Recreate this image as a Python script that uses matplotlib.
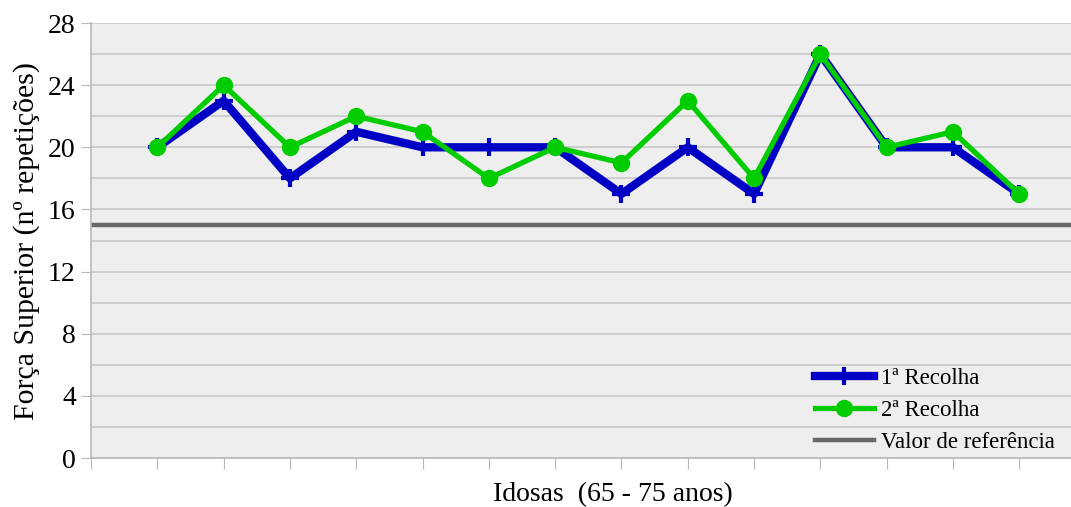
import matplotlib.pyplot as plt
import matplotlib
import numpy as np

matplotlib.rcParams['font.family'] = ['Liberation Serif', 'DejaVu Serif']

# dados
idosas = np.arange(1, 15)
recolha1 = [20, 23, 18, 21, 20, 20, 20, 17, 20, 17, 26, 20, 20, 17]
recolha2 = [20, 24, 20, 22, 21, 18, 20, 19, 23, 18, 26, 20, 21, 17]
valor_ref = 15

fig = plt.figure(figsize=(10.71, 5.07), dpi=100)
ax = fig.add_axes([0.085, 0.0966, 0.915, 0.858])
ax.set_facecolor('#EEEEEE')

ax.axhline(valor_ref, color='#676767', lw=3.2, label='Valor de referência', zorder=2)
ax.plot(idosas, recolha1, color='#0000C4', lw=6, marker='+', ms=13, mew=3,
        label='1ª Recolha', zorder=3)
ax.plot(idosas, recolha2, color='#00CC00', lw=3.8, marker='o', ms=11.5,
        label='2ª Recolha', zorder=4)

ax.set_xlim(0, 14.78)
ax.set_ylim(0, 28)
ax.set_yticks(np.arange(0, 29, 4))
ax.set_yticks(np.arange(0, 29, 2), minor=True)
ax.set_xticks(np.arange(0, 15))
ax.set_xticklabels([])
ax.grid(axis='y', which='both', color='#C8C8C8', lw=1.2)
ax.set_axisbelow(True)
ax.tick_params(axis='y', which='major', length=7, color='#B8B8B8', labelsize=20, pad=4)
ax.tick_params(axis='y', which='minor', length=0)
ax.tick_params(axis='x', length=8, color='#B8B8B8', direction='out')

for s in ['top', 'right']:
    ax.spines[s].set_visible(False)
ax.spines['left'].set_color('#B8B8B8')
ax.spines['left'].set_linewidth(1.2)
ax.spines['bottom'].set_color('#B8B8B8')
ax.spines['bottom'].set_linewidth(1.2)

ax.set_ylabel('Força Superior (nº repetições)', fontsize=21.5, labelpad=6)
ax.set_xlabel('Idosas  (65 - 75 anos)', fontsize=20, va='center')
ax.xaxis.set_label_coords(0.532, -0.085)

h, l = ax.get_legend_handles_labels()
ax.legend([h[1], h[2], h[0]], [l[1], l[2], l[0]], loc='lower right',
          bbox_to_anchor=(1.0, -0.025), frameon=False, fontsize=16.5,
          handlelength=2.6, labelspacing=0.47, handletextpad=0.3,
          borderaxespad=0.3)

plt.savefig('out.png', dpi=100)
